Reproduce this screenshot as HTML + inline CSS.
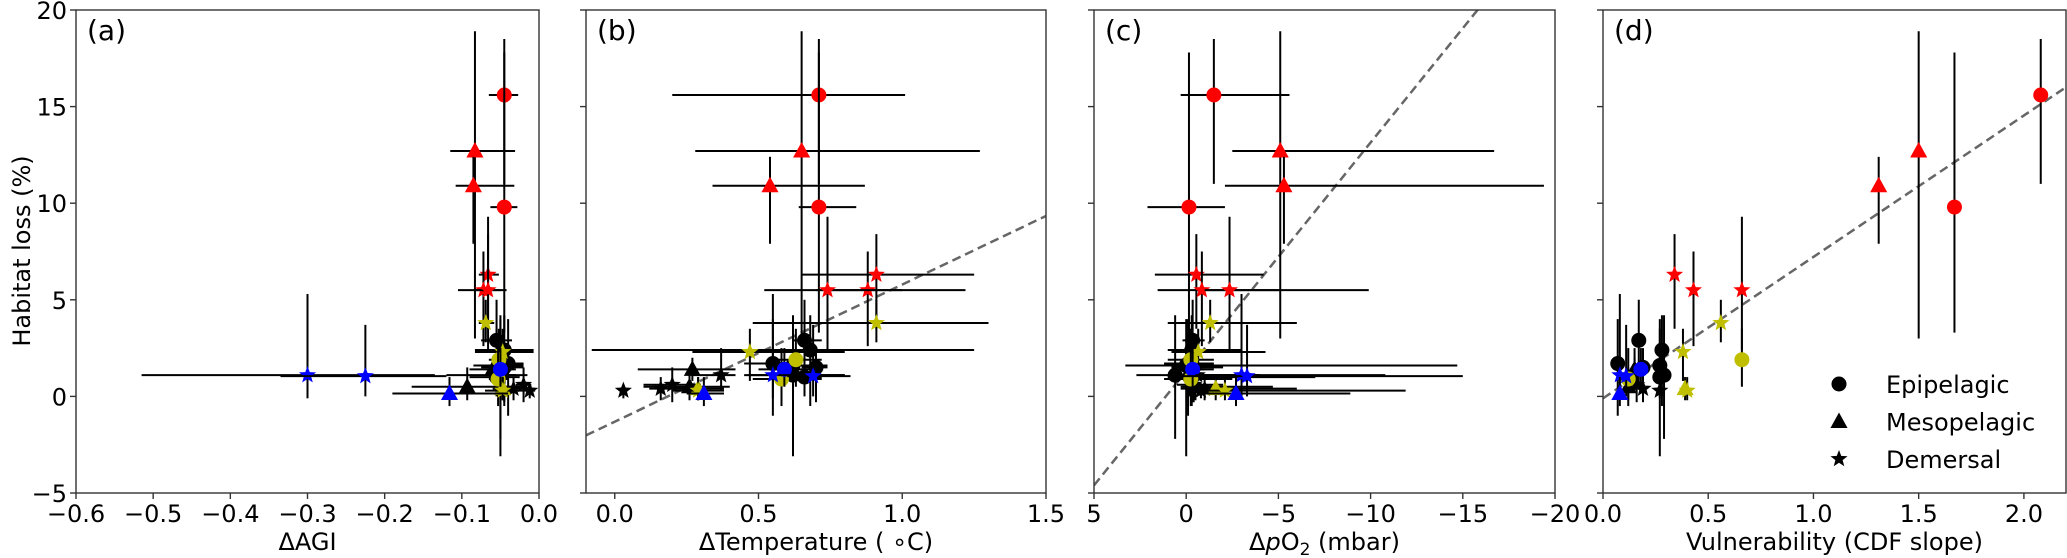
<!DOCTYPE html>
<html><head><meta charset="utf-8">
<style>
html,body{margin:0;padding:0;background:#fff;}
svg{display:block;font-family:"DejaVu Sans","Liberation Sans",sans-serif;}
</style></head>
<body>
<svg id="chart" width="2067" height="558" viewBox="0 0 2067 558" xmlns="http://www.w3.org/2000/svg">
<rect x="0" y="0" width="2067" height="558" fill="#fff"/>
</svg>
<script>
// ---- data (one entry per species) ----
const yVal = [2.9,2.4,1.7,1.6,1.1,1.0,1.5,0.5,1.4,0.3,0.4,0.6,1.1, 15.6,9.8,12.7,10.9,6.3,5.5,5.5,3.8,2.3,1.9,0.9,0.4,0.3,1.4,1.1,1.05,0.15];
const yLo  = [0.5,-0.5,-1.0,-3.1,-2.2,0.0,-0.3,-0.2,0.8,-0.1,-0.2,-0.3,0.3, 11.0,3.3,3.0,7.9,3.5,2.6,2.4,2.8,0.8,0.5,-0.5,-0.2,-0.2,0.5,-0.1,0.0,-0.5];
const yHi  = [5.0,4.2,4.0,4.0,4.2,3.5,2.5,1.5,2.0,0.6,1.0,1.5,2.5, 18.5,17.8,18.9,12.4,8.4,7.5,9.3,5.0,3.5,3.5,2.5,1.0,1.0,2.5,5.3,3.7,1.0];
const colors = ['k','k','k','k','k','k','k','k','k','k','k','k','k','r','r','r','r','r','r','r','y','y','y','y','y','y','b','b','b','b'];
const markers = ['o','o','o','o','o','o','o','^','^','*','*','*','*','o','o','^','^','*','*','*','*','*','o','o','^','*','o','*','*','^'];
// panel (a) ΔAGI
const aX  = [-0.055,-0.045,-0.04,-0.05,-0.05,-0.055,-0.045,-0.093,-0.06,-0.012,-0.033,-0.02,-0.05, -0.045,-0.045,-0.083,-0.085,-0.066,-0.072,-0.066,-0.069,-0.047,-0.052,-0.053,-0.047,-0.047,-0.05,-0.300,-0.225,-0.116];
const aLo = [-0.075,-0.083,-0.06,-0.085,-0.12,-0.09,-0.075,-0.165,-0.09,-0.03,-0.05,-0.03,-0.07, -0.065,-0.063,-0.115,-0.108,-0.078,-0.105,-0.082,-0.078,-0.083,-0.065,-0.065,-0.06,-0.07,-0.065,-0.515,-0.335,-0.19];
const aHi = [-0.035,-0.007,-0.02,-0.02,-0.015,-0.025,-0.02,-0.04,-0.03,-0.005,-0.02,-0.01,-0.03, -0.027,-0.028,-0.031,-0.032,-0.052,-0.042,-0.05,-0.058,-0.007,-0.04,-0.04,-0.035,-0.03,-0.035,-0.135,-0.12,-0.04];
// panel (b) ΔTemperature
const bX  = [0.66,0.68,0.55,0.62,0.62,0.66,0.70,0.26,0.27,0.03,0.16,0.20,0.37, 0.71,0.71,0.65,0.54,0.91,0.88,0.74,0.91,0.47,0.63,0.58,0.29,0.29,0.59,0.55,0.69,0.31];
const bLo = [0.62,-0.08,0.45,0.55,0.45,0.58,0.65,0.10,0.08,0.03,0.12,0.10,0.27, 0.20,0.64,0.28,0.34,0.65,0.70,0.52,0.48,0.27,0.55,0.48,0.20,0.20,0.50,0.47,0.60,0.25];
const bHi = [0.72,1.25,0.62,0.74,0.80,0.72,0.74,0.40,0.42,0.03,0.26,0.30,0.42, 1.01,0.84,1.27,0.87,1.25,1.00,1.22,1.30,0.80,0.72,0.72,0.38,0.38,0.68,0.80,0.82,0.38];
// panel (c) ΔpO2
const cX  = [-0.35,-0.3,-0.1,0.0,0.6,-0.2,-0.4,-0.5,-0.3,-0.8,-1.0,-0.4,-0.6, -1.5,-0.15,-5.1,-5.3,-0.55,-0.85,-2.35,-1.3,-0.65,-0.25,-0.25,-1.6,-2.1,-0.35,-3.0,-3.3,-2.7];
const cLo = [0.2,1.0,1.2,3.3,2.7,1.0,0.8,0.3,0.2,0.0,0.3,0.5,1.0, 0.3,2.1,-2.5,-2.1,1.7,1.55,-1.0,1.0,0.8,1.0,1.2,-0.5,-0.8,0.6,-0.5,1.0,-1.0];
const cHi = [-1.0,-3.0,-1.5,-14.7,-4.0,-7.0,-2.0,-4.7,-1.5,-3.0,-2.0,-2.0,-4.0, -5.6,-2.1,-16.7,-19.4,-4.2,-9.9,-5.0,-6.0,-4.3,-1.5,-2.5,-6.0,-11.9,-1.0,-10.8,-15.0,-8.9];
// panel (d) vulnerability
const dX  = [0.17,0.28,0.07,0.27,0.29,0.27,0.19,0.12,0.15,0.27,0.19,0.16,0.15, 2.08,1.67,1.50,1.31,0.34,0.43,0.66,0.56,0.38,0.66,0.12,0.39,0.40,0.18,0.08,0.11,0.08];
// regression lines [intercept, slope]
const fitB = [-1.31, 7.1];
const fitC = [1.31, -1.183];
const fitD = [-0.1, 7.32];
const yTicks = [-5,0,5,10,15,20];
const aTicks = [-0.6,-0.5,-0.4,-0.3,-0.2,-0.1,0.0];
const bTicks = [0.0,0.5,1.0,1.5];
const cTicks = [5,0,-5,-10,-15,-20];
const dTicks = [0.0,0.5,1.0,1.5,2.0];

const NS = 'http://www.w3.org/2000/svg';
const svg = document.getElementById('chart');
const COL = {k:'#000000', r:'#ff0000', y:'#bfbf00', b:'#0000ff'};
const Y0 = 10, Y1 = 493, YMIN = -5, YMAX = 20;
const FS = 24;
function sy(v){ return Y0 + (YMAX - v) / (YMAX - YMIN) * (Y1 - Y0); }
function mk(tag, attrs, parent){
  const e = document.createElementNS(NS, tag);
  for (const k in attrs) e.setAttribute(k, attrs[k]);
  (parent || svg).appendChild(e);
  return e;
}
function fmt(v, dec){
  const s = Math.abs(v).toFixed(dec);
  return (v < -1e-9 ? '\u2212' : '') + s;
}
function markerShape(m, x, y, color, parent){
  let e;
  if (m === 'o') {
    e = mk('circle', {cx:x, cy:y, r:7.5, fill:color}, parent);
  } else if (m === '^') {
    const s = 9;
    e = mk('polygon', {points:`${x},${y-s} ${x-s*0.95},${y+s*0.72} ${x+s*0.95},${y+s*0.72}`, fill:color}, parent);
  } else {
    const R = 9, r = 3.8; let pts = [];
    for (let i = 0; i < 10; i++) {
      const ang = -Math.PI/2 + i*Math.PI/5, rr = i%2 ? r : R;
      pts.push((x + rr*Math.cos(ang)).toFixed(2) + ',' + (y + rr*Math.sin(ang)).toFixed(2));
    }
    e = mk('polygon', {points:pts.join(' '), fill:color}, parent);
  }
  return e;
}

const panels = [
  {id:'a', x0:76, x1:539, dom:[-0.6,0], ticks:aTicks, dec:1, X:aX, Lo:aLo, Hi:aHi, fit:null, title:'\u0394AGI'},
  {id:'b', x0:586, x1:1046, dom:[-0.1,1.5], ticks:bTicks, dec:1, X:bX, Lo:bLo, Hi:bHi, fit:fitB, title:'\u0394Temperature ( \u2218C)'},
  {id:'c', x0:1094, x1:1555, dom:[5,-20], ticks:cTicks, dec:0, X:cX, Lo:cLo, Hi:cHi, fit:fitC, title:'pO2'},
  {id:'d', x0:1603, x1:2066, dom:[0,2.2], ticks:dTicks, dec:1, X:dX, Lo:null, Hi:null, fit:fitD, title:'Vulnerability (CDF slope)'}
];

const defs = mk('defs', {});
panels.forEach(p => {
  const cp = mk('clipPath', {id:'clip-'+p.id}, defs);
  mk('rect', {x:p.x0, y:Y0, width:p.x1-p.x0, height:Y1-Y0}, cp);
});

panels.forEach(p => {
  const sx = v => p.x0 + (v - p.dom[0]) / (p.dom[1] - p.dom[0]) * (p.x1 - p.x0);
  const g = mk('g', {});
  
  
  const plot = mk('g', {'clip-path':'url(#clip-'+p.id+')'}, g);
  
  
  if (p.fit) {
    const xa = p.dom[0], xb = p.dom[1];
    const ln = mk('line', {x1:sx(xa), y1:sy(p.fit[0]+p.fit[1]*xa), x2:sx(xb), y2:sy(p.fit[0]+p.fit[1]*xb), stroke:'#666', 'stroke-width':2.5, 'stroke-dasharray':'9,5'}, plot);
    
    
  }
  for (let i = 0; i < yVal.length; i++) {
    const pg = mk('g', {}, plot);
    
    
    const px = sx(p.X[i]), py = sy(yVal[i]);
    mk('line', {x1:px, y1:sy(yLo[i]), x2:px, y2:sy(yHi[i]), stroke:'#000', 'stroke-width':2}, pg);
    if (p.Lo) mk('line', {x1:sx(p.Lo[i]), y1:py, x2:sx(p.Hi[i]), y2:py, stroke:'#000', 'stroke-width':2}, pg);
    markerShape(markers[i], px, py, COL[colors[i]], pg);
  }
  const fr = mk('rect', {x:p.x0, y:Y0, width:p.x1-p.x0, height:Y1-Y0, fill:'none', stroke:'#333', 'stroke-width':1.4}, g);
  
  
  yTicks.forEach(t => {
    mk('line', {x1:p.x0-6, y1:sy(t), x2:p.x0, y2:sy(t), stroke:'#333', 'stroke-width':1.4}, g);
    if (p.id === 'a') {
      const tx = mk('text', {x:p.x0-9, y:sy(t)+9, 'text-anchor':'end', 'font-size':FS, fill:'#000'}, g);
      tx.textContent = fmt(t, 0);
      
      
    }
  });
  p.ticks.forEach(t => {
    mk('line', {x1:sx(t), y1:Y1, x2:sx(t), y2:Y1+6, stroke:'#333', 'stroke-width':1.4}, g);
    const tx = mk('text', {x:sx(t), y:522, 'text-anchor':'middle', 'font-size':FS, fill:'#000'}, g);
    tx.textContent = fmt(t, p.dec);
    
    
  });
  const xt = mk('text', {x:(p.x0+p.x1)/2, y:550, 'text-anchor':'middle', 'font-size':FS, fill:'#000'}, g);
  
  
  if (p.id === 'c') {
    xt.appendChild(document.createTextNode('\u0394'));
    const t1 = mk('tspan', {'font-style':'italic'}, xt); t1.textContent = 'p';
    const t2 = mk('tspan', {}, xt); t2.textContent = 'O';
    const t3 = mk('tspan', {'font-size':17, dy:5}, xt); t3.textContent = '2';
    const t4 = mk('tspan', {dy:-5}, xt); t4.textContent = ' (mbar)';
  } else {
    xt.textContent = p.title;
  }
  const pl = mk('text', {x:p.x0+11, y:40, 'font-size':28, fill:'#000'}, g);
  pl.textContent = '(' + p.id + ')';
  
  
});

const yt = mk('text', {x:0, y:0, transform:'translate(30,251) rotate(-90)', 'text-anchor':'middle', 'font-size':FS, fill:'#000'});
yt.textContent = 'Habitat loss (%)';



const legendNames = ['Epipelagic','Mesopelagic','Demersal'];
const legendMarkers = ['o','^','*'];
const lg = mk('g', {});


legendNames.forEach((n, i) => {
  const ly = 384 + i*37.5;
  const eg = mk('g', {}, lg);
  
  
  markerShape(legendMarkers[i], 1839, ly, '#000', eg);
  const t = mk('text', {x:1886, y:ly+9, 'font-size':FS, fill:'#000'}, eg);
  t.textContent = n;
});
</script>
</body></html>
